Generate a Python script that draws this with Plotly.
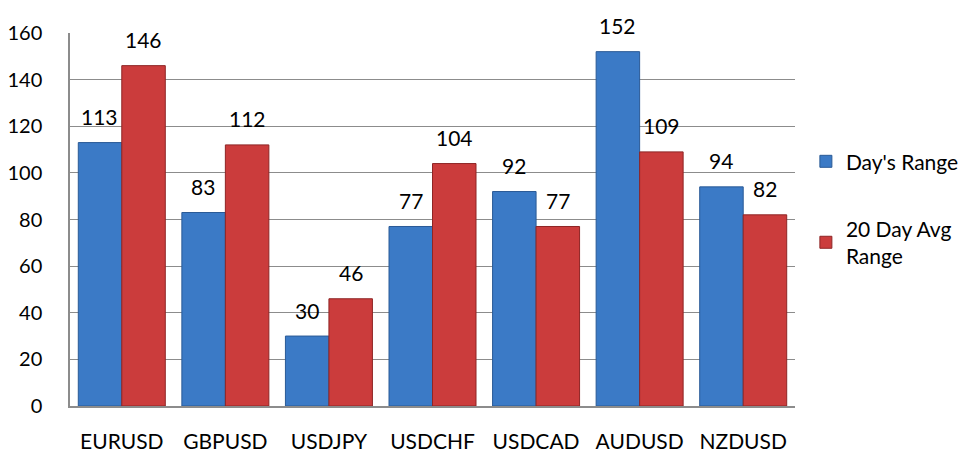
import plotly.graph_objects as go

categories = ["EURUSD", "GBPUSD", "USDJPY", "USDCHF", "USDCAD", "AUDUSD", "NZDUSD"]
days_range = [113, 83, 30, 77, 92, 152, 94]
avg20_range = [146, 112, 46, 104, 77, 109, 82]
series_names = ["Day's Range", "20 Day Avg<br>Range"]
y_ticks = [0, 20, 40, 60, 80, 100, 120, 140, 160]

FONT = "Lato"
FS = 21
blue = "#3b7ac6"
red = "#cb3c3c"

fig = go.Figure()
fig.add_trace(go.Bar(x=categories, y=days_range, name=series_names[0],
                     marker=dict(color=blue, line=dict(color="#2a5a96", width=1)),
                     legendgroup="a"))
fig.add_trace(go.Bar(x=categories, y=avg20_range, name=series_names[1],
                     marker=dict(color=red, line=dict(color="#8e2525", width=1)),
                     legendgroup="b"))

ann = []
for i, c in enumerate(categories):
    for vals, shift in ((days_range, -22), (avg20_range, 22)):
        ann.append(dict(x=c, y=vals[i], text=str(vals[i]), showarrow=False,
                        xshift=shift, yshift=26, yanchor="middle",
                        font=dict(family=FONT, size=FS, color="#000")))

fig.update_layout(
    width=960, height=446,
    margin=dict(l=62, r=173, t=25, b=48, autoexpand=False),
    paper_bgcolor="white", plot_bgcolor="white",
    barmode="group", bargap=0.16, bargroupgap=0,
    font=dict(family=FONT, size=FS, color="#000"),
    annotations=ann,
    legend=dict(x=1.015, y=0.71, xanchor="left", yanchor="top",
                traceorder="grouped", tracegroupgap=37,
                font=dict(family=FONT, size=FS, color="#000"),
                bgcolor="rgba(0,0,0,0)"),
    xaxis=dict(showgrid=False, showline=True, linecolor="#8c8c8c", linewidth=1.5,
               ticks="", ticklabelstandoff=16, automargin=False,
               tickfont=dict(family=FONT, size=FS, color="#000")),
    yaxis=dict(range=[0, 160], tickvals=y_ticks, showgrid=True, gridcolor="#8c8c8c",
               gridwidth=1, showline=True, linecolor="#8c8c8c", linewidth=1.5,
               zeroline=False, ticks="", ticklabelstandoff=22, automargin=False,
               tickfont=dict(family=FONT, size=20, color="#000")),
)

fig.write_html("out.html")
